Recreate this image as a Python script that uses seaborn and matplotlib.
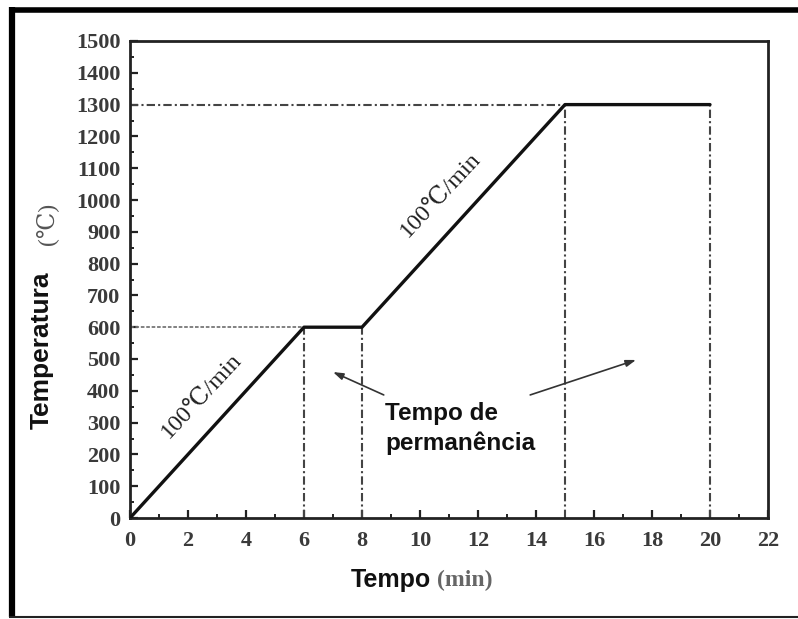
import matplotlib
matplotlib.use("Agg")
import matplotlib.pyplot as plt
from matplotlib.lines import Line2D
from matplotlib.ticker import MultipleLocator
import seaborn as sns
import pandas as pd

# Heating schedule: time (min) vs furnace temperature (°C)
tempo = [0, 6, 8, 15, 20]
temperatura = [0, 600, 600, 1300, 1300]

# Reference guides: plateau temperatures and the times bounding the holds
patamar_temp = [600, 1300]
patamar_fim = [6, 15]
marcos_tempo = [6, 8, 15, 20]
marcos_temp = [600, 600, 1300, 1300]

taxa_rotulo = "100℃/min"

sns.set_style("ticks")
serif = ["Liberation Serif", "DejaVu Serif"]
sans = ["Liberation Sans", "DejaVu Sans"]

fig = plt.figure(figsize=(7.98, 6.19), dpi=100)
ax = fig.add_axes([130 / 798, 1 - 518 / 619, 638 / 798, 477 / 619])

df = pd.DataFrame({"Tempo": tempo, "Temperatura": temperatura})

# Dash-dot guide lines
guide = dict(color="#444444", lw=1.5, dashes=(4, 1.5, 1, 1.5), zorder=1)
ax.plot([0, patamar_fim[1]], [patamar_temp[1]] * 2, **guide)
ax.plot([0, patamar_fim[0]], [patamar_temp[0]] * 2, color="#777777", lw=1.3,
        dashes=(2, 1), zorder=1)
for t, v in zip(marcos_tempo, marcos_temp):
    ax.plot([t, t], [0, v], **guide)

sns.lineplot(data=df, x="Tempo", y="Temperatura", ax=ax, color="#111111",
             lw=2.4, estimator=None, sort=False, zorder=3)

ax.set_xlim(0, 22)
ax.set_ylim(0, 1500)
ax.xaxis.set_major_locator(MultipleLocator(2))
ax.xaxis.set_minor_locator(MultipleLocator(1))
ax.yaxis.set_major_locator(MultipleLocator(100))
ax.yaxis.set_minor_locator(MultipleLocator(50))
ax.tick_params(which="major", direction="in", length=6, width=1.6,
               labelsize=16, pad=7, colors="#222222")
ax.tick_params(which="minor", direction="in", length=3, width=1.4,
               colors="#222222")
ax.tick_params(axis="x", which="major", pad=9)
for lab in ax.get_xticklabels() + ax.get_yticklabels():
    lab.set_family(serif)
    lab.set_fontweight("bold")
    lab.set_color("#3a3a3a")
for s in ax.spines.values():
    s.set_linewidth(2.0)
    s.set_color("#222222")
    s.set_visible(True)
ax.set_xlabel("")
ax.set_ylabel("")

# Heating-rate labels along the ramps
ax.text(2.45, 385, taxa_rotulo, rotation=47, rotation_mode="anchor",
        ha="center", va="center", fontsize=17.5, family=serif, color="#222222")
ax.text(10.7, 1015, taxa_rotulo, rotation=47, rotation_mode="anchor",
        ha="center", va="center", fontsize=17.5, family=serif, color="#222222")

# Holding-time annotation
ax.text(8.8, 330, "Tempo de", fontsize=17.5, fontweight="bold",
        family=sans, ha="left", va="center", color="#111111")
ax.text(8.8, 236, "permanência", fontsize=17.5, fontweight="bold",
        family=sans, ha="left", va="center", color="#111111")
arrow = dict(arrowstyle="-|>,head_length=0.6,head_width=0.2", color="#333333",
             lw=1.2, shrinkA=0, shrinkB=0)
ax.annotate("", xy=(7.0, 459), xytext=(8.75, 387), arrowprops=arrow)
ax.annotate("", xy=(17.45, 497), xytext=(13.8, 387), arrowprops=arrow)

# Axis titles
fig.text(42 / 798, 1 - 350 / 619, "Temperatura", rotation=90, ha="center",
         va="center", fontsize=19, fontweight="bold", family=sans,
         color="#111111")
fig.text(47 / 798, 1 - 224 / 619, "(℃)", rotation=90, ha="center",
         va="center", fontsize=17, family=serif, color="#555555")
fig.text(391 / 798, 1 - 580 / 619, "Tempo", ha="center", va="center",
         fontsize=18, fontweight="bold", family=sans, color="#111111")
fig.text(437 / 798, 1 - 580 / 619, "(min)", ha="left", va="center",
         fontsize=17, fontweight="bold", family=serif, color="#666666")

# Outer frame
fig.add_artist(Line2D([11.5 / 798, 11.5 / 798], [1 - 7 / 619, 1 - 617 / 619],
                      transform=fig.transFigure, color="black", lw=4.5,
                      solid_capstyle="butt"))
fig.add_artist(Line2D([9 / 798, 1], [1 - 9.5 / 619, 1 - 9.5 / 619],
                      transform=fig.transFigure, color="black", lw=4.0,
                      solid_capstyle="butt"))
fig.add_artist(Line2D([9 / 798, 1], [1 - 617 / 619, 1 - 617 / 619],
                      transform=fig.transFigure, color="#222222", lw=1.5,
                      solid_capstyle="butt"))

fig.savefig("out.png", dpi=100, facecolor="white")
